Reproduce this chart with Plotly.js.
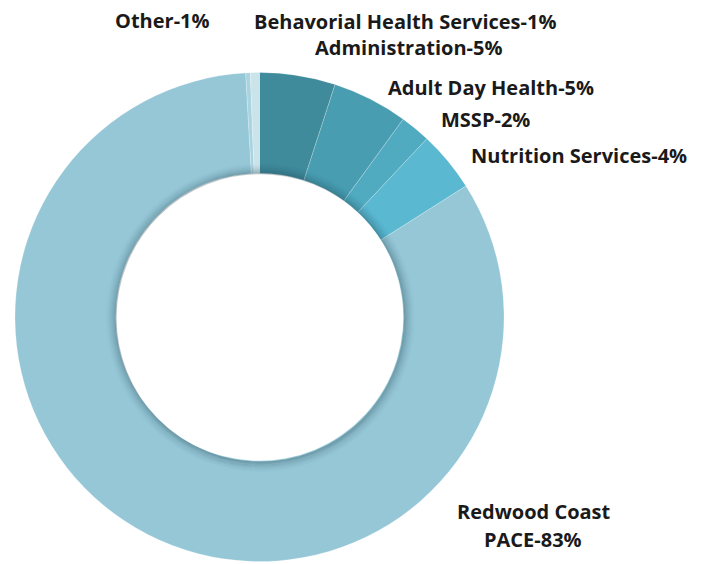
<!DOCTYPE html>
<html>
<head>
<meta charset="utf-8">
<script src="https://cdn.plot.ly/plotly-3.0.1.min.js"></script>
<style>html,body{margin:0;padding:0;background:#fff}#chart{width:706px;height:564px}</style>
</head>
<body>
<div id="chart"></div>
<script>
// Data
const categories = ["Administration", "Adult Day Health", "MSSP", "Nutrition Services", "Redwood Coast PACE", "Other", "Behavorial Health Services"];
const values = [5, 5, 2, 4, 83.1, 0.3, 0.6];
const labelTexts = ["Administration-5%", "Adult Day Health-5%", "MSSP-2%", "Nutrition Services-4%", "Redwood Coast<br>PACE-83%", "Other-1%", "Behavorial Health Services-1%"];
const colors = ["#3f8a9b", "#489db1", "#50aac0", "#5ab8d1", "#95c7d7", "#a9d3df", "#cbe4eb"];

// Layout geometry (pixels)
const W = 706, H = 564;
const cx = 259.5, cyTop = 317, R = 244.5, holeFrac = 0.588;
const cyB = H - cyTop;

// Label placement (pixel centres of each line)
const labelPos = [
  [[409, 47.5]], [[491, 87]], [[485, 119]], [[579, 155]], [[534, 511.5], [532.5, 539.5]], [[162, 20]], [[405, 21.5]]
];

const annotations = [];
labelTexts.forEach((t, i) => {
  const lines = t.split('<br>');
  lines.forEach((ln, j) => {
    annotations.push({
      text: ln, xref: 'paper', yref: 'paper',
      x: labelPos[i][j][0] / W, y: 1 - labelPos[i][j][1] / H,
      xanchor: 'center', yanchor: 'middle', showarrow: false, align: 'center',
      font: {family: '"Open Sans", sans-serif', size: 20, color: '#1a1a1a', weight: 700}
    });
  });
});

// inner shadow rings around the hole
const shapes = [];
const rh = R * holeFrac;
for (let k = 0; k < 12; k++) {
  const r = rh + 0.5 + k * 1.0;
  const op = 0.26 * Math.pow(1 - k / 12, 2);
  shapes.push({
    type: 'circle', xref: 'paper', yref: 'paper',
    x0: (cx + 0.8 - r) / W, x1: (cx + 0.8 + r) / W,
    y0: (cyB - 0.8 - r) / H, y1: (cyB - 0.8 + r) / H,
    line: {color: 'rgba(20,50,60,' + op.toFixed(3) + ')', width: 1.2},
    layer: 'above'
  });
}

const trace = {
  type: 'pie',
  labels: categories,
  values: values,
  sort: false,
  direction: 'clockwise',
  rotation: 0,
  hole: holeFrac,
  textinfo: 'none',
  hoverinfo: 'label+percent',
  marker: {colors: colors, line: {color: 'rgba(255,255,255,0.35)', width: 0.6}},
  domain: {x: [(cx - R) / W, (cx + R) / W], y: [(cyB - R) / H, (cyB + R) / H]},
  showlegend: false
};

const layout = {
  width: W, height: H,
  margin: {l: 0, r: 0, t: 0, b: 0},
  paper_bgcolor: '#ffffff',
  showlegend: false,
  annotations: annotations,
  shapes: shapes
};

Plotly.newPlot('chart', [trace], layout, {displayModeBar: false, staticPlot: true});
</script>
</body>
</html>
